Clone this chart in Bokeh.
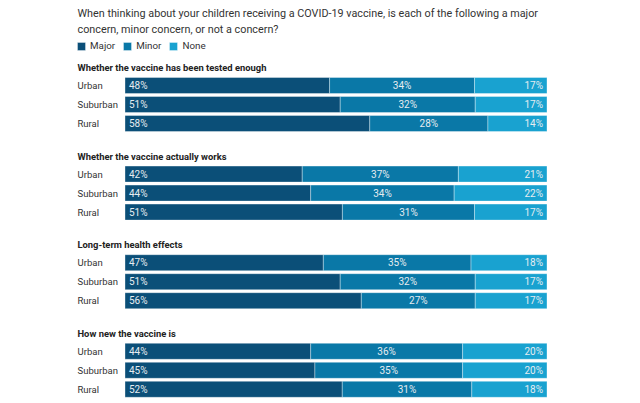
from bokeh.plotting import figure
from bokeh.models import Range1d, ColumnDataSource, Legend, LegendItem
from bokeh.core.properties import value
from bokeh.embed import file_html
from bokeh.resources import INLINE

title_lines = [
    "When thinking about your children receiving a COVID-19 vaccine, is each of the following a major",
    "concern, minor concern, or not a concern?",
]
groups = [
    "Whether the vaccine has been tested enough",
    "Whether the vaccine actually works",
    "Long-term health effects",
    "How new the vaccine is",
]
areas = ["Urban", "Suburban", "Rural"]
series = ["Major", "Minor", "None"]
major = [48, 51, 58, 42, 44, 51, 47, 51, 56, 44, 45, 52]
minor = [34, 32, 28, 37, 34, 31, 35, 32, 27, 36, 35, 31]
none_ = [17, 17, 14, 21, 22, 17, 18, 17, 17, 20, 20, 18]
colors = ["#0b4f78", "#0a78a7", "#19a2d0"]

W, H = 640, 403
PX0 = 124.5          # frame x of 0 %
PXP = 4.22           # px per percent
FONT = "Roboto"


def dx(px):
    """frame pixel -> data x"""
    return (px - PX0) / PXP


FIRST_BAR = 85.0
GROUP_STEP = 88.6
ROW_STEP = 19.0
BAR_H = 16
LEFT_TXT = 77

p = figure(width=W, height=H, output_backend="svg", toolbar_location=None,
           x_range=Range1d(dx(0), dx(W)), y_range=Range1d(H, 0),
           min_border=0, outline_line_color=None)
p.axis.visible = False
p.grid.visible = False
p.background_fill_color = "white"

rows_y, rows_lab, mj, lefts1, lefts2, rights = [], [], [], [], [], []
for i in range(len(major)):
    g, r = divmod(i, 3)
    y = FIRST_BAR + g * GROUP_STEP + r * ROW_STEP
    tot = major[i] + minor[i] + none_[i]
    a = major[i] / tot * 100
    b = minor[i] / tot * 100
    c = none_[i] / tot * 100
    rows_y.append(y)
    rows_lab.append(areas[r])
    mj.append(a)
    lefts1.append(a); lefts2.append(a + b); rights.append(a + b + c)

src = ColumnDataSource(dict(
    y=rows_y, lab=rows_lab,
    l0=[0] * len(rows_y), r0=mj,
    l1=lefts1, r1=lefts2,
    l2=lefts2, r2=rights,
    t0=[f"{v}%" for v in major],
    t1=[f"{v}%" for v in minor],
    t2=[f"{v}%" for v in none_],
    cx1=[(a + b) / 2 for a, b in zip(lefts1, lefts2)],
    x0=[4 / PXP] * len(rows_y),
    x2=[r - 4 / PXP for r in rights],
))

rs = []
for k, (l, r) in enumerate([("l0", "r0"), ("l1", "r1"), ("l2", "r2")]):
    rs.append(p.hbar(y="y", left=l, right=r, height=BAR_H, source=src,
                     fill_color=colors[k], line_color="white", line_alpha=0.35,
                     line_width=1))

pct_style = dict(text_font=value(FONT), text_font_size="10px",
                 text_color="#e6ecf0", text_baseline="middle", source=src)
p.text(x="x0", y="y", text="t0", text_align="left", **pct_style)
p.text(x="cx1", y="y", text="t1", text_align="center", **pct_style)
p.text(x="x2", y="y", text="t2", text_align="right", **pct_style)

p.text(x=[dx(LEFT_TXT)] * len(rows_y), y=rows_y, text=rows_lab,
       text_font=value(FONT), text_font_size="9.5px", text_color="#333333",
       text_baseline="middle", text_align="left")

gy = [FIRST_BAR - 18 + g * GROUP_STEP for g in range(len(groups))]
p.text(x=[dx(LEFT_TXT)] * len(groups), y=gy, text=groups,
       text_font=value(FONT), text_font_size="9.4px", text_font_style="bold",
       text_color="#222222", text_baseline="middle", text_align="left")

p.text(x=[dx(LEFT_TXT)] * 2, y=[12.5, 28.5], text=title_lines,
       text_font=value(FONT), text_font_size="10.8px", text_color="#333333",
       text_baseline="middle", text_align="left")

legend = Legend(items=[LegendItem(label=s, renderers=[rs[k]]) for k, s in enumerate(series)],
                orientation="horizontal", location=(76, 352),
                glyph_width=10, glyph_height=10, label_height=10,
                label_standoff=4, spacing=7, padding=0, margin=0,
                label_text_font=FONT, label_text_font_size="9.8px",
                label_text_color="#333333",
                border_line_alpha=0, background_fill_alpha=0)
p.add_layout(legend, "center")

open("out.html", "w").write(file_html(p, INLINE))
